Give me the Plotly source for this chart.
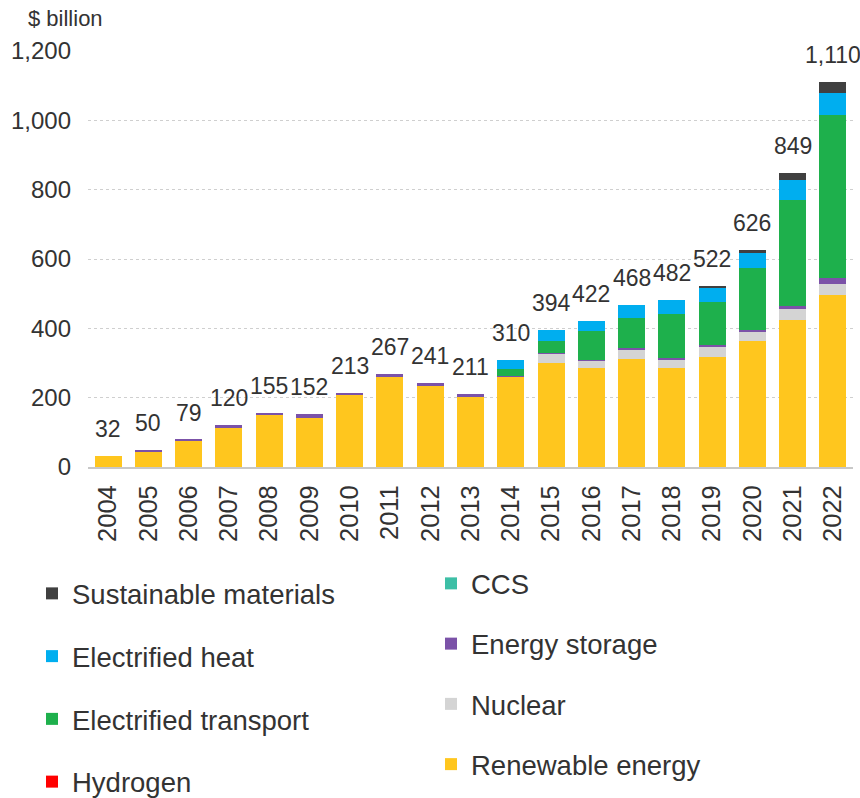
import plotly.graph_objects as go

years = list(range(2004, 2023))
totals = [32, 50, 79, 120, 155, 152, 213, 267, 241, 211, 310, 394, 422, 468, 482, 522, 626, 849, 1110]

renewable = [32, 46, 75, 113, 150, 142, 208, 261, 235, 201, 261, 300, 286, 312, 286, 318, 363, 424, 496]
nuclear = [0, 0, 0, 0, 0, 0, 0, 0, 0, 0, 0, 27, 20, 27, 25, 31, 27, 31, 31]
storage = [0, 4, 4, 7, 5, 10, 5, 6, 6, 10, 1, 2, 3, 3, 3, 2, 4, 10, 17]
ccs = [0] * 19
hydrogen = [0] * 19
transport = [0, 0, 0, 0, 0, 0, 0, 0, 0, 0, 20, 35, 82, 87, 126, 124, 180, 305, 470]
heat = [0, 0, 0, 0, 0, 0, 0, 0, 0, 0, 28, 30, 31, 39, 42, 40, 44, 59, 66]
sustainable = [0, 0, 0, 0, 0, 0, 0, 0, 0, 0, 0, 0, 0, 0, 0, 7, 8, 20, 30]

# (name, values, colour, legend, rank within legend column)
series = [
    ("Renewable energy", renewable, "#FFC61E", "legend2", 4),
    ("Nuclear", nuclear, "#D4D4D4", "legend2", 3),
    ("Energy storage", storage, "#7B52A8", "legend2", 2),
    ("CCS", ccs, "#3DBFA6", "legend2", 1),
    ("Hydrogen", hydrogen, "#FF0000", "legend", 4),
    ("Electrified transport", transport, "#1EB04C", "legend", 3),
    ("Electrified heat", heat, "#00AEEF", "legend", 2),
    ("Sustainable materials", sustainable, "#404040", "legend", 1),
]

FONT = "Liberation Sans, Arial, sans-serif"
TXT = "#333333"

fig = go.Figure()
for name, vals, color, lg, rank in series:
    fig.add_trace(go.Bar(
        x=years, y=vals, name=name, marker=dict(color=color, line=dict(width=0)),
        legend=lg, legendgroup=name, legendrank=rank,
    ))

stack_tops = [sum(col) for col in zip(*[s[1] for s in series])]
for yr, tot, top in zip(years, totals, stack_tops):
    fig.add_annotation(
        x=yr, y=top, text=f"{tot:,}", showarrow=False,
        yanchor="bottom", yshift=12, font=dict(family=FONT, size=23, color=TXT),
    )

fig.add_annotation(
    xref="paper", yref="paper", x=-0.081, y=1.079, xanchor="left", yanchor="middle",
    text="$ billion", showarrow=False, font=dict(family=FONT, size=22, color=TXT),
)

legend_common = dict(
    orientation="v", traceorder="grouped",
    font=dict(family=FONT, size=27.5, color=TXT), bgcolor="rgba(0,0,0,0)",
    xref="container", yref="container", xanchor="left", yanchor="top",
)

fig.update_layout(
    width=860, height=798,
    margin=dict(l=88, r=7, t=51, b=331, autoexpand=False),
    paper_bgcolor="white", plot_bgcolor="white",
    barmode="stack", bargap=0.33,
    font=dict(family=FONT, size=24, color=TXT),
    legend=dict(x=32 / 860, y=1 - 569 / 798, tracegroupgap=24, **legend_common),
    legend2=dict(x=431 / 860, y=1 - 559 / 798, tracegroupgap=21.5, **legend_common),
    xaxis=dict(
        type="linear", range=[years[0] - 0.5, years[-1] + 0.5],
        tickmode="array", tickvals=years, ticktext=[str(y) for y in years],
        tickangle=-90, showgrid=False, showline=True, zeroline=False,
        linecolor="#C8C8C8", linewidth=2, ticks="", ticklabelstandoff=6,
        tickfont=dict(family=FONT, size=25.5, color=TXT),
    ),
    yaxis=dict(
        range=[0, 1200], dtick=200, tickformat=",", showgrid=True,
        gridcolor="#CFCFCF", griddash="dot", gridwidth=1, zeroline=False,
        showline=False, ticks="", ticklabelstandoff=16,
        tickfont=dict(family=FONT, size=24, color=TXT),
    ),
)

fig.write_html("out.html", config={"displayModeBar": False},
               post_script="document.body.style.margin='0';")
